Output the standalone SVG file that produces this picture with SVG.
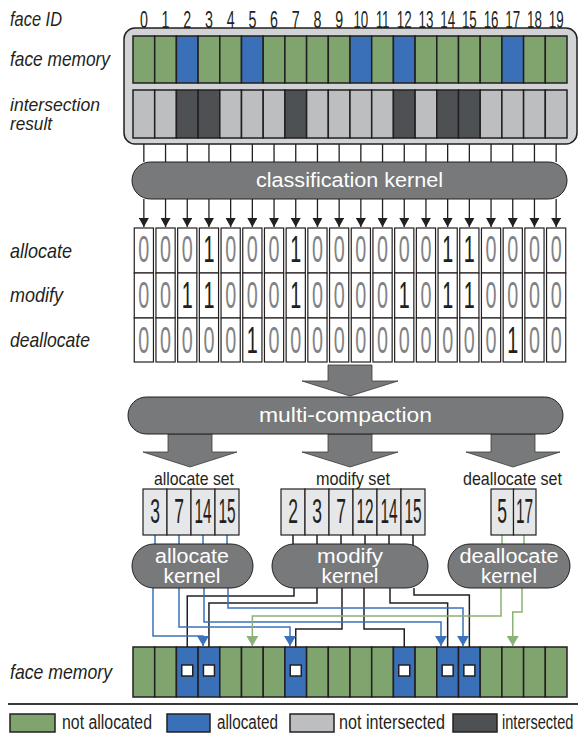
<svg xmlns="http://www.w3.org/2000/svg" xmlns:xlink="http://www.w3.org/1999/xlink" width="582" height="735" viewBox="0 0 582 735">
<style>
text{font-family:"Liberation Sans",Arial,sans-serif}
.lbl{font-style:italic;font-size:21px;fill:#231f20}
.lbs{font-style:italic;font-size:18.5px;fill:#231f20}
.id{font-size:23px;fill:#231f20;text-anchor:middle}
.g{fill:#7fa46e;stroke:#231f20;stroke-width:1.5}
.b{fill:#3a70b8;stroke:#231f20;stroke-width:1.5}
.lg{fill:#bcbec0;stroke:#231f20;stroke-width:1.5}
.dg{fill:#4d5153;stroke:#231f20;stroke-width:1.5}
.pill{fill:#78797a;stroke:#231f20;stroke-width:1}
.kt{font-size:20px;fill:#fff;text-anchor:middle}
.cell{fill:#fff;stroke:#231f20;stroke-width:1.2}
.d0,.d1{font-size:36px;text-anchor:middle}
.d0{fill:#808285}
.d1{fill:#231f20}
.sc{fill:#e6e7e8;stroke:#231f20;stroke-width:1.2}
.sd{font-size:35px;fill:#231f20;text-anchor:middle}
.st{font-size:19px;fill:#231f20;text-anchor:middle}
.lt{font-size:20px;fill:#231f20}
.w{fill:none;stroke-width:1.5}
.bw{stroke:#3b72bb}
.kw{stroke:#231f20}
.gw{stroke:#8bb176}
.tl{stroke:#231f20;stroke-width:1.3;fill:none}
.sq{fill:#fff;stroke:#231f20;stroke-width:1.5}
.blk{fill:#78797a;stroke:#3a3a3a;stroke-width:0.8}
</style>
<defs>
<marker id="ak" markerUnits="userSpaceOnUse" viewBox="0 -5 9 10" refX="9" refY="0" markerWidth="9" markerHeight="10" orient="auto"><path d="M0,-5L9,0L0,5z" fill="#231f20"/></marker>
<marker id="ab" markerUnits="userSpaceOnUse" viewBox="0 -6 10 12" refX="10" refY="0" markerWidth="10" markerHeight="12" orient="auto"><path d="M0,-6L10,0L0,6z" fill="#3b72bb"/></marker>
<marker id="ag" markerUnits="userSpaceOnUse" viewBox="0 -6 10 12" refX="10" refY="0" markerWidth="10" markerHeight="12" orient="auto"><path d="M0,-6L10,0L0,6z" fill="#8bb176"/></marker>
<g id="tcol">
<rect class="cell" x="134.25" y="228" width="19.2" height="45"/>
<rect class="cell" x="134.25" y="273" width="19.2" height="45"/>
<rect class="cell" x="134.25" y="318" width="19.2" height="44"/>
</g>
</defs>

<g id="labels">
<text class="lbl" x="10" y="26" textLength="52" lengthAdjust="spacingAndGlyphs">face ID</text>
<text class="lbl" x="10" y="66" textLength="100" lengthAdjust="spacingAndGlyphs">face memory</text>
<text class="lbs" x="10" y="111" textLength="90" lengthAdjust="spacingAndGlyphs">intersection</text>
<text class="lbs" x="10" y="130" textLength="42" lengthAdjust="spacingAndGlyphs">result</text>
<text class="lbl" x="10" y="258" textLength="62" lengthAdjust="spacingAndGlyphs">allocate</text>
<text class="lbl" x="10" y="302" textLength="53" lengthAdjust="spacingAndGlyphs">modify</text>
<text class="lbl" x="10" y="347" textLength="80" lengthAdjust="spacingAndGlyphs">deallocate</text>
<text class="lbl" x="10" y="679" textLength="102" lengthAdjust="spacingAndGlyphs">face memory</text>
</g>

<g id="face-ids">
<text class="id" transform="translate(143.85 28) scale(0.62 1)">0</text>
<text class="id" transform="translate(165.55 28) scale(0.62 1)">1</text>
<text class="id" transform="translate(187.25 28) scale(0.62 1)">2</text>
<text class="id" transform="translate(208.95 28) scale(0.62 1)">3</text>
<text class="id" transform="translate(230.65 28) scale(0.62 1)">4</text>
<text class="id" transform="translate(252.35 28) scale(0.62 1)">5</text>
<text class="id" transform="translate(274.05 28) scale(0.62 1)">6</text>
<text class="id" transform="translate(295.75 28) scale(0.62 1)">7</text>
<text class="id" transform="translate(317.45 28) scale(0.62 1)">8</text>
<text class="id" transform="translate(339.15 28) scale(0.62 1)">9</text>
<text class="id" transform="translate(360.85 28) scale(0.58 1)">10</text>
<text class="id" transform="translate(382.55 28) scale(0.58 1)">11</text>
<text class="id" transform="translate(404.25 28) scale(0.58 1)">12</text>
<text class="id" transform="translate(425.95 28) scale(0.58 1)">13</text>
<text class="id" transform="translate(447.65 28) scale(0.58 1)">14</text>
<text class="id" transform="translate(469.35 28) scale(0.58 1)">15</text>
<text class="id" transform="translate(491.05 28) scale(0.58 1)">16</text>
<text class="id" transform="translate(512.75 28) scale(0.58 1)">17</text>
<text class="id" transform="translate(534.45 28) scale(0.58 1)">18</text>
<text class="id" transform="translate(556.15 28) scale(0.58 1)">19</text>
</g>

<g id="input-panel">
<rect x="124" y="28" width="453" height="116" rx="11" fill="#d1d3d4" stroke="#231f20" stroke-width="1.5"/>
<g id="face-memory-top">
<rect class="g" x="133" y="36" width="21.7" height="47"/>
<rect class="g" x="154.7" y="36" width="21.7" height="47"/>
<rect class="b" x="176.4" y="36" width="21.7" height="47"/>
<rect class="g" x="198.1" y="36" width="21.7" height="47"/>
<rect class="g" x="219.8" y="36" width="21.7" height="47"/>
<rect class="b" x="241.5" y="36" width="21.7" height="47"/>
<rect class="g" x="263.2" y="36" width="21.7" height="47"/>
<rect class="g" x="284.9" y="36" width="21.7" height="47"/>
<rect class="g" x="306.6" y="36" width="21.7" height="47"/>
<rect class="g" x="328.3" y="36" width="21.7" height="47"/>
<rect class="b" x="350" y="36" width="21.7" height="47"/>
<rect class="g" x="371.7" y="36" width="21.7" height="47"/>
<rect class="b" x="393.4" y="36" width="21.7" height="47"/>
<rect class="g" x="415.1" y="36" width="21.7" height="47"/>
<rect class="g" x="436.8" y="36" width="21.7" height="47"/>
<rect class="g" x="458.5" y="36" width="21.7" height="47"/>
<rect class="g" x="480.2" y="36" width="21.7" height="47"/>
<rect class="b" x="501.9" y="36" width="21.7" height="47"/>
<rect class="g" x="523.6" y="36" width="21.7" height="47"/>
<rect class="g" x="545.3" y="36" width="21.7" height="47"/>
</g>
<g id="intersection-result">
<rect class="lg" x="133" y="90" width="21.7" height="48"/>
<rect class="lg" x="154.7" y="90" width="21.7" height="48"/>
<rect class="dg" x="176.4" y="90" width="21.7" height="48"/>
<rect class="dg" x="198.1" y="90" width="21.7" height="48"/>
<rect class="lg" x="219.8" y="90" width="21.7" height="48"/>
<rect class="lg" x="241.5" y="90" width="21.7" height="48"/>
<rect class="lg" x="263.2" y="90" width="21.7" height="48"/>
<rect class="dg" x="284.9" y="90" width="21.7" height="48"/>
<rect class="lg" x="306.6" y="90" width="21.7" height="48"/>
<rect class="lg" x="328.3" y="90" width="21.7" height="48"/>
<rect class="lg" x="350" y="90" width="21.7" height="48"/>
<rect class="lg" x="371.7" y="90" width="21.7" height="48"/>
<rect class="dg" x="393.4" y="90" width="21.7" height="48"/>
<rect class="lg" x="415.1" y="90" width="21.7" height="48"/>
<rect class="dg" x="436.8" y="90" width="21.7" height="48"/>
<rect class="dg" x="458.5" y="90" width="21.7" height="48"/>
<rect class="lg" x="480.2" y="90" width="21.7" height="48"/>
<rect class="lg" x="501.9" y="90" width="21.7" height="48"/>
<rect class="lg" x="523.6" y="90" width="21.7" height="48"/>
<rect class="lg" x="545.3" y="90" width="21.7" height="48"/>
</g>
</g>

<g id="connectors">
<path class="tl" d="M143.85,144V162M165.55,144V162M187.25,144V162M208.95,144V162M230.65,144V162M252.35,144V162M274.05,144V162M295.75,144V162M317.45,144V162M339.15,144V162M360.85,144V162M382.55,144V162M404.25,144V162M425.95,144V162M447.65,144V162M469.35,144V162M491.05,144V162M512.75,144V162M534.45,144V162M556.15,144V162"/>
<g marker-end="url(#ak)" class="tl">
<path d="M143.85,199V227"/><path d="M165.55,199V227"/><path d="M187.25,199V227"/><path d="M208.95,199V227"/><path d="M230.65,199V227"/>
<path d="M252.35,199V227"/><path d="M274.05,199V227"/><path d="M295.75,199V227"/><path d="M317.45,199V227"/><path d="M339.15,199V227"/>
<path d="M360.85,199V227"/><path d="M382.55,199V227"/><path d="M404.25,199V227"/><path d="M425.95,199V227"/><path d="M447.65,199V227"/>
<path d="M469.35,199V227"/><path d="M491.05,199V227"/><path d="M512.75,199V227"/><path d="M534.45,199V227"/><path d="M556.15,199V227"/>
</g>
<polygon class="blk" points="328,365 372,365 372,381 398,381 350,396 302,381 328,381"/>
<polygon class="blk" points="168,434 212,434 212,452 237,452 190,467 143,452 168,452"/>
<polygon class="blk" points="328,434 372,434 372,452 398,452 350,467 302,452 328,452"/>
<polygon class="blk" points="491,434 535,434 535,452 560,452 513,467 466,452 491,452"/>
<path class="w bw" d="M155,535V545M179,535V545M203,535V545M227,535V545"/>
<path class="w kw" d="M293,535V545M317,535V545M341,535V545M365,535V545M389,535V545M413,535V545"/>
<path class="w gw" d="M502,535V545M524,535V545"/>
<path class="w kw" d="M294,588V596H187.25V665"/>
<path class="w kw" d="M317,588V603H208.95V665"/>
<path class="w kw" d="M342,588V629H295.75V665"/>
<path class="w kw" d="M364,588V629H404.25V665"/>
<path class="w kw" d="M390,588V603H447.65V665"/>
<path class="w kw" d="M414,588V595H469.35V665"/>
<path class="w bw" marker-end="url(#ab)" d="M153,588V636H203V646"/>
<path class="w bw" marker-end="url(#ab)" d="M179,588V627H290V646"/>
<path class="w bw" marker-end="url(#ab)" d="M204,588V622H441V646"/>
<path class="w bw" marker-end="url(#ab)" d="M228,588V608H463V646"/>
<path class="w gw" marker-end="url(#ag)" d="M501,588V616H252.35V646"/>
<path class="w gw" marker-end="url(#ag)" d="M522,588V612H512.75V646"/>
</g>

<g id="classification-kernel">
<rect class="pill" x="132" y="162" width="435" height="37" rx="18.5"/>
<text class="kt" x="349.5" y="187" textLength="187" lengthAdjust="spacingAndGlyphs">classification kernel</text>
</g>

<g id="flag-table">
<use xlink:href="#tcol" x="0"/><use xlink:href="#tcol" x="21.7"/><use xlink:href="#tcol" x="43.4"/><use xlink:href="#tcol" x="65.1"/><use xlink:href="#tcol" x="86.8"/>
<use xlink:href="#tcol" x="108.5"/><use xlink:href="#tcol" x="130.2"/><use xlink:href="#tcol" x="151.9"/><use xlink:href="#tcol" x="173.6"/><use xlink:href="#tcol" x="195.3"/>
<use xlink:href="#tcol" x="217"/><use xlink:href="#tcol" x="238.7"/><use xlink:href="#tcol" x="260.4"/><use xlink:href="#tcol" x="282.1"/><use xlink:href="#tcol" x="303.8"/>
<use xlink:href="#tcol" x="325.5"/><use xlink:href="#tcol" x="347.2"/><use xlink:href="#tcol" x="368.9"/><use xlink:href="#tcol" x="390.6"/><use xlink:href="#tcol" x="412.3"/>
<g id="row-allocate">
<text class="d0" x="143.85" y="262" textLength="11" lengthAdjust="spacingAndGlyphs">0</text>
<text class="d0" x="165.55" y="262" textLength="11" lengthAdjust="spacingAndGlyphs">0</text>
<text class="d0" x="187.25" y="262" textLength="11" lengthAdjust="spacingAndGlyphs">0</text>
<text class="d1" x="208.95" y="262" textLength="11" lengthAdjust="spacingAndGlyphs">1</text>
<text class="d0" x="230.65" y="262" textLength="11" lengthAdjust="spacingAndGlyphs">0</text>
<text class="d0" x="252.35" y="262" textLength="11" lengthAdjust="spacingAndGlyphs">0</text>
<text class="d0" x="274.05" y="262" textLength="11" lengthAdjust="spacingAndGlyphs">0</text>
<text class="d1" x="295.75" y="262" textLength="11" lengthAdjust="spacingAndGlyphs">1</text>
<text class="d0" x="317.45" y="262" textLength="11" lengthAdjust="spacingAndGlyphs">0</text>
<text class="d0" x="339.15" y="262" textLength="11" lengthAdjust="spacingAndGlyphs">0</text>
<text class="d0" x="360.85" y="262" textLength="11" lengthAdjust="spacingAndGlyphs">0</text>
<text class="d0" x="382.55" y="262" textLength="11" lengthAdjust="spacingAndGlyphs">0</text>
<text class="d0" x="404.25" y="262" textLength="11" lengthAdjust="spacingAndGlyphs">0</text>
<text class="d0" x="425.95" y="262" textLength="11" lengthAdjust="spacingAndGlyphs">0</text>
<text class="d1" x="447.65" y="262" textLength="11" lengthAdjust="spacingAndGlyphs">1</text>
<text class="d1" x="469.35" y="262" textLength="11" lengthAdjust="spacingAndGlyphs">1</text>
<text class="d0" x="491.05" y="262" textLength="11" lengthAdjust="spacingAndGlyphs">0</text>
<text class="d0" x="512.75" y="262" textLength="11" lengthAdjust="spacingAndGlyphs">0</text>
<text class="d0" x="534.45" y="262" textLength="11" lengthAdjust="spacingAndGlyphs">0</text>
<text class="d0" x="556.15" y="262" textLength="11" lengthAdjust="spacingAndGlyphs">0</text>
</g>
<g id="row-modify">
<text class="d0" x="143.85" y="308" textLength="11" lengthAdjust="spacingAndGlyphs">0</text>
<text class="d0" x="165.55" y="308" textLength="11" lengthAdjust="spacingAndGlyphs">0</text>
<text class="d1" x="187.25" y="308" textLength="11" lengthAdjust="spacingAndGlyphs">1</text>
<text class="d1" x="208.95" y="308" textLength="11" lengthAdjust="spacingAndGlyphs">1</text>
<text class="d0" x="230.65" y="308" textLength="11" lengthAdjust="spacingAndGlyphs">0</text>
<text class="d0" x="252.35" y="308" textLength="11" lengthAdjust="spacingAndGlyphs">0</text>
<text class="d0" x="274.05" y="308" textLength="11" lengthAdjust="spacingAndGlyphs">0</text>
<text class="d1" x="295.75" y="308" textLength="11" lengthAdjust="spacingAndGlyphs">1</text>
<text class="d0" x="317.45" y="308" textLength="11" lengthAdjust="spacingAndGlyphs">0</text>
<text class="d0" x="339.15" y="308" textLength="11" lengthAdjust="spacingAndGlyphs">0</text>
<text class="d0" x="360.85" y="308" textLength="11" lengthAdjust="spacingAndGlyphs">0</text>
<text class="d0" x="382.55" y="308" textLength="11" lengthAdjust="spacingAndGlyphs">0</text>
<text class="d1" x="404.25" y="308" textLength="11" lengthAdjust="spacingAndGlyphs">1</text>
<text class="d0" x="425.95" y="308" textLength="11" lengthAdjust="spacingAndGlyphs">0</text>
<text class="d1" x="447.65" y="308" textLength="11" lengthAdjust="spacingAndGlyphs">1</text>
<text class="d1" x="469.35" y="308" textLength="11" lengthAdjust="spacingAndGlyphs">1</text>
<text class="d0" x="491.05" y="308" textLength="11" lengthAdjust="spacingAndGlyphs">0</text>
<text class="d0" x="512.75" y="308" textLength="11" lengthAdjust="spacingAndGlyphs">0</text>
<text class="d0" x="534.45" y="308" textLength="11" lengthAdjust="spacingAndGlyphs">0</text>
<text class="d0" x="556.15" y="308" textLength="11" lengthAdjust="spacingAndGlyphs">0</text>
</g>
<g id="row-deallocate">
<text class="d0" x="143.85" y="353" textLength="11" lengthAdjust="spacingAndGlyphs">0</text>
<text class="d0" x="165.55" y="353" textLength="11" lengthAdjust="spacingAndGlyphs">0</text>
<text class="d0" x="187.25" y="353" textLength="11" lengthAdjust="spacingAndGlyphs">0</text>
<text class="d0" x="208.95" y="353" textLength="11" lengthAdjust="spacingAndGlyphs">0</text>
<text class="d0" x="230.65" y="353" textLength="11" lengthAdjust="spacingAndGlyphs">0</text>
<text class="d1" x="252.35" y="353" textLength="11" lengthAdjust="spacingAndGlyphs">1</text>
<text class="d0" x="274.05" y="353" textLength="11" lengthAdjust="spacingAndGlyphs">0</text>
<text class="d0" x="295.75" y="353" textLength="11" lengthAdjust="spacingAndGlyphs">0</text>
<text class="d0" x="317.45" y="353" textLength="11" lengthAdjust="spacingAndGlyphs">0</text>
<text class="d0" x="339.15" y="353" textLength="11" lengthAdjust="spacingAndGlyphs">0</text>
<text class="d0" x="360.85" y="353" textLength="11" lengthAdjust="spacingAndGlyphs">0</text>
<text class="d0" x="382.55" y="353" textLength="11" lengthAdjust="spacingAndGlyphs">0</text>
<text class="d0" x="404.25" y="353" textLength="11" lengthAdjust="spacingAndGlyphs">0</text>
<text class="d0" x="425.95" y="353" textLength="11" lengthAdjust="spacingAndGlyphs">0</text>
<text class="d0" x="447.65" y="353" textLength="11" lengthAdjust="spacingAndGlyphs">0</text>
<text class="d0" x="469.35" y="353" textLength="11" lengthAdjust="spacingAndGlyphs">0</text>
<text class="d0" x="491.05" y="353" textLength="11" lengthAdjust="spacingAndGlyphs">0</text>
<text class="d1" x="512.75" y="353" textLength="11" lengthAdjust="spacingAndGlyphs">1</text>
<text class="d0" x="534.45" y="353" textLength="11" lengthAdjust="spacingAndGlyphs">0</text>
<text class="d0" x="556.15" y="353" textLength="11" lengthAdjust="spacingAndGlyphs">0</text>
</g>
</g>

<g id="multi-compaction">
<rect class="pill" x="128" y="397" width="435" height="37" rx="18.5"/>
<text class="kt" x="345.5" y="422" textLength="173" lengthAdjust="spacingAndGlyphs">multi-compaction</text>
</g>

<g id="allocate-set">
<text class="st" x="194" y="485" textLength="80" lengthAdjust="spacingAndGlyphs">allocate set</text>
<rect class="sc" x="143" y="489" width="24" height="46"/>
<rect class="sc" x="167" y="489" width="24" height="46"/>
<rect class="sc" x="191" y="489" width="24" height="46"/>
<rect class="sc" x="215" y="489" width="24" height="46"/>
<text class="sd" transform="translate(155 523) scale(0.5 1)">3</text>
<text class="sd" transform="translate(179 523) scale(0.5 1)">7</text>
<text class="sd" transform="translate(203 523) scale(0.44 1)">14</text>
<text class="sd" transform="translate(227 523) scale(0.44 1)">15</text>
</g>

<g id="modify-set">
<text class="st" x="353" y="485" textLength="74" lengthAdjust="spacingAndGlyphs">modify set</text>
<rect class="sc" x="281" y="489" width="24" height="46"/>
<rect class="sc" x="305" y="489" width="24" height="46"/>
<rect class="sc" x="329" y="489" width="24" height="46"/>
<rect class="sc" x="353" y="489" width="24" height="46"/>
<rect class="sc" x="377" y="489" width="24" height="46"/>
<rect class="sc" x="401" y="489" width="24" height="46"/>
<text class="sd" transform="translate(293 523) scale(0.5 1)">2</text>
<text class="sd" transform="translate(317 523) scale(0.5 1)">3</text>
<text class="sd" transform="translate(341 523) scale(0.5 1)">7</text>
<text class="sd" transform="translate(365 523) scale(0.44 1)">12</text>
<text class="sd" transform="translate(389 523) scale(0.44 1)">14</text>
<text class="sd" transform="translate(413 523) scale(0.44 1)">15</text>
</g>

<g id="deallocate-set">
<text class="st" x="512.5" y="485" textLength="99" lengthAdjust="spacingAndGlyphs">deallocate set</text>
<rect class="sc" x="491" y="489" width="22.5" height="46"/>
<rect class="sc" x="513.5" y="489" width="22.5" height="46"/>
<text class="sd" transform="translate(502 523) scale(0.5 1)">5</text>
<text class="sd" transform="translate(524.5 523) scale(0.44 1)">17</text>
</g>

<g id="allocate-kernel">
<rect class="pill" x="132" y="544" width="121" height="44" rx="22"/>
<text class="kt" x="192" y="563" textLength="74" lengthAdjust="spacingAndGlyphs">allocate</text>
<text class="kt" x="192" y="583" textLength="57" lengthAdjust="spacingAndGlyphs">kernel</text>
</g>
<g id="modify-kernel">
<rect class="pill" x="272" y="544" width="156" height="44" rx="22"/>
<text class="kt" x="350" y="563" textLength="66" lengthAdjust="spacingAndGlyphs">modify</text>
<text class="kt" x="350" y="583" textLength="57" lengthAdjust="spacingAndGlyphs">kernel</text>
</g>
<g id="deallocate-kernel">
<rect class="pill" x="448" y="544" width="122" height="44" rx="22"/>
<text class="kt" x="509" y="563" textLength="99" lengthAdjust="spacingAndGlyphs">deallocate</text>
<text class="kt" x="509" y="583" textLength="56" lengthAdjust="spacingAndGlyphs">kernel</text>
</g>

<g id="face-memory-bottom">
<rect class="g" x="133" y="647" width="21.7" height="50"/>
<rect class="g" x="154.7" y="647" width="21.7" height="50"/>
<rect class="b" x="176.4" y="647" width="21.7" height="50"/>
<rect class="b" x="198.1" y="647" width="21.7" height="50"/>
<rect class="g" x="219.8" y="647" width="21.7" height="50"/>
<rect class="g" x="241.5" y="647" width="21.7" height="50"/>
<rect class="g" x="263.2" y="647" width="21.7" height="50"/>
<rect class="b" x="284.9" y="647" width="21.7" height="50"/>
<rect class="g" x="306.6" y="647" width="21.7" height="50"/>
<rect class="g" x="328.3" y="647" width="21.7" height="50"/>
<rect class="g" x="350" y="647" width="21.7" height="50"/>
<rect class="g" x="371.7" y="647" width="21.7" height="50"/>
<rect class="b" x="393.4" y="647" width="21.7" height="50"/>
<rect class="g" x="415.1" y="647" width="21.7" height="50"/>
<rect class="b" x="436.8" y="647" width="21.7" height="50"/>
<rect class="b" x="458.5" y="647" width="21.7" height="50"/>
<rect class="g" x="480.2" y="647" width="21.7" height="50"/>
<rect class="g" x="501.9" y="647" width="21.7" height="50"/>
<rect class="g" x="523.6" y="647" width="21.7" height="50"/>
<rect class="g" x="545.3" y="647" width="21.7" height="50"/>
<rect class="sq" x="181.75" y="665" width="11" height="11"/>
<rect class="sq" x="203.45" y="665" width="11" height="11"/>
<rect class="sq" x="290.25" y="665" width="11" height="11"/>
<rect class="sq" x="398.75" y="665" width="11" height="11"/>
<rect class="sq" x="442.15" y="665" width="11" height="11"/>
<rect class="sq" x="463.85" y="665" width="11" height="11"/>
</g>

<g id="legend">
<line x1="8" y1="704" x2="578" y2="704" stroke="#3a3a3a" stroke-width="2"/>
<rect class="g" x="10" y="714" width="45" height="18"/>
<text class="lt" x="62" y="729" textLength="90" lengthAdjust="spacingAndGlyphs">not allocated</text>
<rect class="b" x="167" y="714" width="43" height="18"/>
<text class="lt" x="217" y="729" textLength="61" lengthAdjust="spacingAndGlyphs">allocated</text>
<rect class="lg" x="290" y="714" width="44" height="18"/>
<text class="lt" x="339" y="729" textLength="106" lengthAdjust="spacingAndGlyphs">not intersected</text>
<rect class="dg" x="453" y="714" width="44" height="18"/>
<text class="lt" transform="translate(502 729) scale(0.73 1)">intersected</text>
</g>
</svg>
